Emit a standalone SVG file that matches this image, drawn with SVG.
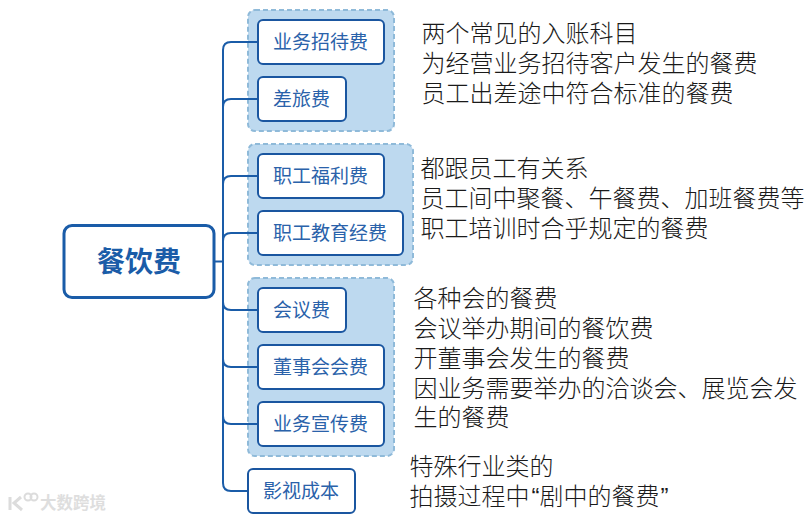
<svg xmlns="http://www.w3.org/2000/svg" width="810" height="519" viewBox="0 0 810 519">
<style>
text{font-family:"Noto Sans CJK SC","Liberation Sans",sans-serif}
.g{fill:#bdd9ef;stroke:#8fbad9;stroke-width:2;stroke-dasharray:5 3}
.n{fill:#fff;stroke:#1a56a0;stroke-width:2}
.l{font-size:19px;fill:#2a62aa;text-anchor:middle}
.d{font-size:24px;fill:#1a1a1a;font-weight:300}
.q{font-family:"Liberation Sans",sans-serif}
.c{fill:none;stroke:#1a5ca8;stroke-width:2}
</style>
<rect width="810" height="519" fill="#fff"/>
<rect class="g" x="248" y="10" width="146" height="121" rx="7"/>
<rect class="g" x="248" y="144" width="165" height="121" rx="7"/>
<rect class="g" x="248" y="278" width="146" height="178" rx="7"/>
<g id="connectors">
<path class="c" d="M214 261.500H223"/>
<path class="c" d="M258 42H231Q223 42 223 50V483Q223 491 231 491H248"/>
<path class="c" d="M258 99H231Q223 99 223 107"/>
<path class="c" d="M258 176H231Q223 176 223 184"/>
<path class="c" d="M258 233H231Q223 233 223 241"/>
<path class="c" d="M258 310H231Q223 310 223 302"/>
<path class="c" d="M258 367H231Q223 367 223 359"/>
<path class="c" d="M258 424H231Q223 424 223 416"/>
</g>
<g id="root"><rect x="64" y="225.500" width="150" height="72" rx="8" fill="#fff" stroke="#1a5ca8" stroke-width="3"/>
<text x="139" y="272" font-size="28" font-weight="700" fill="#1a5ca8" text-anchor="middle">餐饮费</text></g>
<g id="n1"><rect class="n" x="258" y="20" width="126" height="44" rx="5"/><text class="l" x="320.500" y="49">业务招待费</text></g>
<g id="n2"><rect class="n" x="258" y="77" width="88" height="44" rx="5"/><text class="l" x="301.500" y="106">差旅费</text></g>
<g id="n3"><rect class="n" x="258" y="154" width="126" height="44" rx="5"/><text class="l" x="320.500" y="183">职工福利费</text></g>
<g id="n4"><rect class="n" x="258" y="211" width="145" height="44" rx="5"/><text class="l" x="330" y="240">职工教育经费</text></g>
<g id="n5"><rect class="n" x="258" y="288" width="88" height="44" rx="5"/><text class="l" x="301.500" y="317">会议费</text></g>
<g id="n6"><rect class="n" x="258" y="345" width="126" height="44" rx="5"/><text class="l" x="320.500" y="374">董事会会费</text></g>
<g id="n7"><rect class="n" x="258" y="402" width="126" height="44" rx="5"/><text class="l" x="320.500" y="431">业务宣传费</text></g>
<g id="n8"><rect class="n" x="248" y="469" width="107" height="44" rx="5"/><text class="l" x="301" y="498">影视成本</text></g>
<g id="notes">
<text class="d"><tspan x="421.500" y="42">两个常见的入账科目</tspan><tspan x="421.500" y="72">为经营业务招待客户发生的餐费</tspan><tspan x="421.500" y="102">员工出差途中符合标准的餐费</tspan></text>
<text class="d"><tspan x="420.500" y="177">都跟员工有关系</tspan><tspan x="420.500" y="207">员工间中聚餐、午餐费、加班餐费等</tspan><tspan x="420.500" y="237">职工培训时合乎规定的餐费</tspan></text>
<text class="d"><tspan x="413.500" y="307">各种会的餐费</tspan><tspan x="413.500" y="337">会议举办期间的餐饮费</tspan><tspan x="413.500" y="367">开董事会发生的餐费</tspan><tspan x="413.500" y="397">因业务需要举办的洽谈会、展览会发</tspan><tspan x="413.500" y="426">生的餐费</tspan></text>
<text class="d"><tspan x="409.500" y="475">特殊行业类的</tspan><tspan x="409.500" y="505">拍摄过程中</tspan><tspan class="q" dx="2">“</tspan><tspan dx="0">剧中的餐费</tspan><tspan class="q" dx="1">”</tspan></text>
</g>
<g id="watermark">
<path d="M10 497V510M21 497L14 503L22 510" fill="none" stroke="#dcdcdc" stroke-width="3"/>
<circle cx="28" cy="497" r="3.500" fill="none" stroke="#dcdcdc" stroke-width="2"/>
<circle cx="34" cy="497" r="3.500" fill="none" stroke="#dcdcdc" stroke-width="2"/>
<text x="40" y="509" font-size="16.500" font-weight="700" fill="#dedede">大数跨境</text>
</g>
</svg>
